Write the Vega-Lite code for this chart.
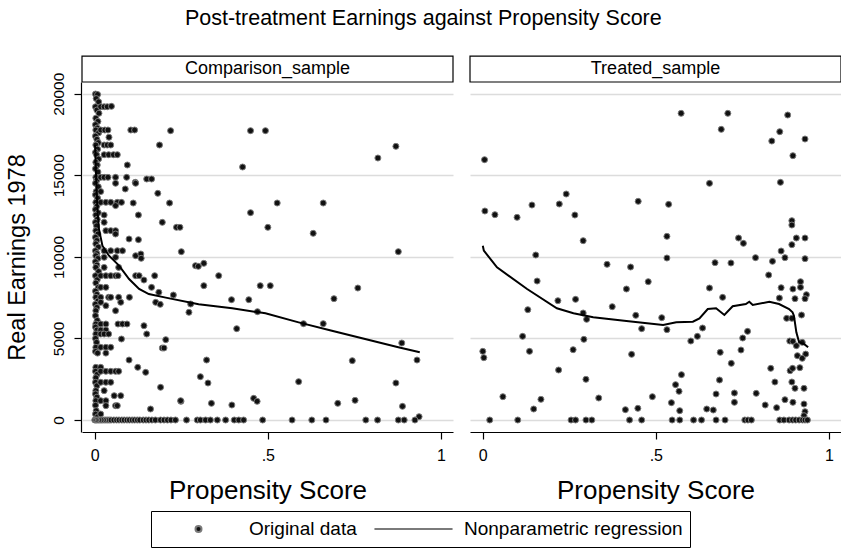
{
"$schema": "https://vega.github.io/schema/vega-lite/v6.json",
"autosize": {"type": "pad"},
"padding": {"left": 5, "top": 8, "right": 0, "bottom": 0},
"background": "white",
"config": {
  "font": "Liberation Sans",
  "view": {"stroke": null},
  "axis": {"domainColor": "black", "tickColor": "black", "labelColor": "black", "titleColor": "black", "titleFontWeight": "normal", "domainWidth": 1.2, "tickWidth": 1.2, "labelFont": "Liberation Sans", "titleFont": "Liberation Sans"},
  "legend": {"labelFont": "Liberation Sans"}
},
"title": {"text": "Post-treatment Earnings against Propensity Score", "fontSize": 21.5, "fontWeight": "normal", "color": "black", "anchor": "middle", "frame": "bounds", "offset": 26},
"data": {"values": [
{"sample":"Comparison_sample","series":"Original data","p":0.002,"re78":19980},
{"sample":"Comparison_sample","series":"Original data","p":0.008,"re78":19950},
{"sample":"Comparison_sample","series":"Original data","p":0.004,"re78":19700},
{"sample":"Comparison_sample","series":"Original data","p":0.011,"re78":19500},
{"sample":"Comparison_sample","series":"Original data","p":0.002,"re78":19200},
{"sample":"Comparison_sample","series":"Original data","p":0.006,"re78":19000},
{"sample":"Comparison_sample","series":"Original data","p":0.012,"re78":18800},
{"sample":"Comparison_sample","series":"Original data","p":0.003,"re78":18500},
{"sample":"Comparison_sample","series":"Original data","p":0.009,"re78":18300},
{"sample":"Comparison_sample","series":"Original data","p":0.002,"re78":18100},
{"sample":"Comparison_sample","series":"Original data","p":0.007,"re78":17900},
{"sample":"Comparison_sample","series":"Original data","p":0.003,"re78":17775},
{"sample":"Comparison_sample","series":"Original data","p":0.011,"re78":17600},
{"sample":"Comparison_sample","series":"Original data","p":0.002,"re78":17400},
{"sample":"Comparison_sample","series":"Original data","p":0.006,"re78":17200},
{"sample":"Comparison_sample","series":"Original data","p":0.01,"re78":17000},
{"sample":"Comparison_sample","series":"Original data","p":0.003,"re78":16855},
{"sample":"Comparison_sample","series":"Original data","p":0.008,"re78":16600},
{"sample":"Comparison_sample","series":"Original data","p":0.002,"re78":16400},
{"sample":"Comparison_sample","series":"Original data","p":0.005,"re78":16260},
{"sample":"Comparison_sample","series":"Original data","p":0.011,"re78":16000},
{"sample":"Comparison_sample","series":"Original data","p":0.003,"re78":15800},
{"sample":"Comparison_sample","series":"Original data","p":0.007,"re78":15630},
{"sample":"Comparison_sample","series":"Original data","p":0.002,"re78":15400},
{"sample":"Comparison_sample","series":"Original data","p":0.009,"re78":15200},
{"sample":"Comparison_sample","series":"Original data","p":0.003,"re78":14875},
{"sample":"Comparison_sample","series":"Original data","p":0.006,"re78":14700},
{"sample":"Comparison_sample","series":"Original data","p":0.002,"re78":14510},
{"sample":"Comparison_sample","series":"Original data","p":0.01,"re78":14300},
{"sample":"Comparison_sample","series":"Original data","p":0.004,"re78":14000},
{"sample":"Comparison_sample","series":"Original data","p":0.002,"re78":13800},
{"sample":"Comparison_sample","series":"Original data","p":0.008,"re78":13600},
{"sample":"Comparison_sample","series":"Original data","p":0.003,"re78":13340},
{"sample":"Comparison_sample","series":"Original data","p":0.006,"re78":13100},
{"sample":"Comparison_sample","series":"Original data","p":0.002,"re78":12900},
{"sample":"Comparison_sample","series":"Original data","p":0.01,"re78":12700},
{"sample":"Comparison_sample","series":"Original data","p":0.003,"re78":12565},
{"sample":"Comparison_sample","series":"Original data","p":0.007,"re78":12300},
{"sample":"Comparison_sample","series":"Original data","p":0.002,"re78":12115},
{"sample":"Comparison_sample","series":"Original data","p":0.005,"re78":11900},
{"sample":"Comparison_sample","series":"Original data","p":0.003,"re78":11605},
{"sample":"Comparison_sample","series":"Original data","p":0.009,"re78":11400},
{"sample":"Comparison_sample","series":"Original data","p":0.002,"re78":11200},
{"sample":"Comparison_sample","series":"Original data","p":0.006,"re78":11000},
{"sample":"Comparison_sample","series":"Original data","p":0.003,"re78":10800},
{"sample":"Comparison_sample","series":"Original data","p":0.01,"re78":10600},
{"sample":"Comparison_sample","series":"Original data","p":0.002,"re78":10375},
{"sample":"Comparison_sample","series":"Original data","p":0.006,"re78":10200},
{"sample":"Comparison_sample","series":"Original data","p":0.003,"re78":10070},
{"sample":"Comparison_sample","series":"Original data","p":0.009,"re78":9900},
{"sample":"Comparison_sample","series":"Original data","p":0.002,"re78":9700},
{"sample":"Comparison_sample","series":"Original data","p":0.006,"re78":9500},
{"sample":"Comparison_sample","series":"Original data","p":0.003,"re78":9355},
{"sample":"Comparison_sample","series":"Original data","p":0.011,"re78":9100},
{"sample":"Comparison_sample","series":"Original data","p":0.002,"re78":8845},
{"sample":"Comparison_sample","series":"Original data","p":0.007,"re78":8600},
{"sample":"Comparison_sample","series":"Original data","p":0.003,"re78":8400},
{"sample":"Comparison_sample","series":"Original data","p":0.01,"re78":8130},
{"sample":"Comparison_sample","series":"Original data","p":0.002,"re78":7900},
{"sample":"Comparison_sample","series":"Original data","p":0.006,"re78":7700},
{"sample":"Comparison_sample","series":"Original data","p":0.003,"re78":7520},
{"sample":"Comparison_sample","series":"Original data","p":0.009,"re78":7300},
{"sample":"Comparison_sample","series":"Original data","p":0.002,"re78":7100},
{"sample":"Comparison_sample","series":"Original data","p":0.006,"re78":6900},
{"sample":"Comparison_sample","series":"Original data","p":0.003,"re78":6700},
{"sample":"Comparison_sample","series":"Original data","p":0.002,"re78":6395},
{"sample":"Comparison_sample","series":"Original data","p":0.007,"re78":6100},
{"sample":"Comparison_sample","series":"Original data","p":0.003,"re78":5884},
{"sample":"Comparison_sample","series":"Original data","p":0.002,"re78":5700},
{"sample":"Comparison_sample","series":"Original data","p":0.006,"re78":5516},
{"sample":"Comparison_sample","series":"Original data","p":0.003,"re78":5271},
{"sample":"Comparison_sample","series":"Original data","p":0.002,"re78":5000},
{"sample":"Comparison_sample","series":"Original data","p":0.005,"re78":4760},
{"sample":"Comparison_sample","series":"Original data","p":0.003,"re78":4455},
{"sample":"Comparison_sample","series":"Original data","p":0.002,"re78":4200},
{"sample":"Comparison_sample","series":"Original data","p":0.008,"re78":4100},
{"sample":"Comparison_sample","series":"Original data","p":0.003,"re78":3228},
{"sample":"Comparison_sample","series":"Original data","p":0.002,"re78":2983},
{"sample":"Comparison_sample","series":"Original data","p":0.007,"re78":2800},
{"sample":"Comparison_sample","series":"Original data","p":0.003,"re78":2590},
{"sample":"Comparison_sample","series":"Original data","p":0.002,"re78":2310},
{"sample":"Comparison_sample","series":"Original data","p":0.006,"re78":2100},
{"sample":"Comparison_sample","series":"Original data","p":0.003,"re78":1800},
{"sample":"Comparison_sample","series":"Original data","p":0.002,"re78":1600},
{"sample":"Comparison_sample","series":"Original data","p":0.006,"re78":1400},
{"sample":"Comparison_sample","series":"Original data","p":0.003,"re78":1185},
{"sample":"Comparison_sample","series":"Original data","p":0.002,"re78":900},
{"sample":"Comparison_sample","series":"Original data","p":0.004,"re78":570},
{"sample":"Comparison_sample","series":"Original data","p":0.002,"re78":365},
{"sample":"Comparison_sample","series":"Original data","p":0.008,"re78":200},
{"sample":"Comparison_sample","series":"Original data","p":0.017,"re78":19200},
{"sample":"Comparison_sample","series":"Original data","p":0.027,"re78":19200},
{"sample":"Comparison_sample","series":"Original data","p":0.036,"re78":19200},
{"sample":"Comparison_sample","series":"Original data","p":0.048,"re78":19225},
{"sample":"Comparison_sample","series":"Original data","p":0.017,"re78":17775},
{"sample":"Comparison_sample","series":"Original data","p":0.029,"re78":17775},
{"sample":"Comparison_sample","series":"Original data","p":0.038,"re78":17775},
{"sample":"Comparison_sample","series":"Original data","p":0.041,"re78":17330},
{"sample":"Comparison_sample","series":"Original data","p":0.027,"re78":16855},
{"sample":"Comparison_sample","series":"Original data","p":0.036,"re78":16855},
{"sample":"Comparison_sample","series":"Original data","p":0.046,"re78":16855},
{"sample":"Comparison_sample","series":"Original data","p":0.027,"re78":16260},
{"sample":"Comparison_sample","series":"Original data","p":0.04,"re78":16260},
{"sample":"Comparison_sample","series":"Original data","p":0.054,"re78":16260},
{"sample":"Comparison_sample","series":"Original data","p":0.065,"re78":16260},
{"sample":"Comparison_sample","series":"Original data","p":0.017,"re78":14875},
{"sample":"Comparison_sample","series":"Original data","p":0.027,"re78":14875},
{"sample":"Comparison_sample","series":"Original data","p":0.038,"re78":14875},
{"sample":"Comparison_sample","series":"Original data","p":0.06,"re78":14875},
{"sample":"Comparison_sample","series":"Original data","p":0.06,"re78":14510},
{"sample":"Comparison_sample","series":"Original data","p":0.017,"re78":14000},
{"sample":"Comparison_sample","series":"Original data","p":0.017,"re78":13340},
{"sample":"Comparison_sample","series":"Original data","p":0.032,"re78":13340},
{"sample":"Comparison_sample","series":"Original data","p":0.046,"re78":13340},
{"sample":"Comparison_sample","series":"Original data","p":0.065,"re78":13340},
{"sample":"Comparison_sample","series":"Original data","p":0.077,"re78":13340},
{"sample":"Comparison_sample","series":"Original data","p":0.06,"re78":13140},
{"sample":"Comparison_sample","series":"Original data","p":0.027,"re78":12565},
{"sample":"Comparison_sample","series":"Original data","p":0.027,"re78":12115},
{"sample":"Comparison_sample","series":"Original data","p":0.032,"re78":11605},
{"sample":"Comparison_sample","series":"Original data","p":0.046,"re78":11605},
{"sample":"Comparison_sample","series":"Original data","p":0.06,"re78":11605},
{"sample":"Comparison_sample","series":"Original data","p":0.06,"re78":11400},
{"sample":"Comparison_sample","series":"Original data","p":0.027,"re78":10375},
{"sample":"Comparison_sample","series":"Original data","p":0.046,"re78":10375},
{"sample":"Comparison_sample","series":"Original data","p":0.065,"re78":10375},
{"sample":"Comparison_sample","series":"Original data","p":0.08,"re78":10375},
{"sample":"Comparison_sample","series":"Original data","p":0.027,"re78":9970},
{"sample":"Comparison_sample","series":"Original data","p":0.06,"re78":9970},
{"sample":"Comparison_sample","series":"Original data","p":0.027,"re78":9355},
{"sample":"Comparison_sample","series":"Original data","p":0.069,"re78":9355},
{"sample":"Comparison_sample","series":"Original data","p":0.017,"re78":8845},
{"sample":"Comparison_sample","series":"Original data","p":0.032,"re78":8845},
{"sample":"Comparison_sample","series":"Original data","p":0.046,"re78":8845},
{"sample":"Comparison_sample","series":"Original data","p":0.06,"re78":8845},
{"sample":"Comparison_sample","series":"Original data","p":0.067,"re78":8845},
{"sample":"Comparison_sample","series":"Original data","p":0.017,"re78":8130},
{"sample":"Comparison_sample","series":"Original data","p":0.032,"re78":8130},
{"sample":"Comparison_sample","series":"Original data","p":0.017,"re78":7520},
{"sample":"Comparison_sample","series":"Original data","p":0.04,"re78":7520},
{"sample":"Comparison_sample","series":"Original data","p":0.046,"re78":7520},
{"sample":"Comparison_sample","series":"Original data","p":0.069,"re78":7520},
{"sample":"Comparison_sample","series":"Original data","p":0.017,"re78":7215},
{"sample":"Comparison_sample","series":"Original data","p":0.075,"re78":7215},
{"sample":"Comparison_sample","series":"Original data","p":0.032,"re78":7010},
{"sample":"Comparison_sample","series":"Original data","p":0.06,"re78":6700},
{"sample":"Comparison_sample","series":"Original data","p":0.017,"re78":5884},
{"sample":"Comparison_sample","series":"Original data","p":0.032,"re78":5884},
{"sample":"Comparison_sample","series":"Original data","p":0.067,"re78":5884},
{"sample":"Comparison_sample","series":"Original data","p":0.08,"re78":5884},
{"sample":"Comparison_sample","series":"Original data","p":0.017,"re78":5516},
{"sample":"Comparison_sample","series":"Original data","p":0.032,"re78":5516},
{"sample":"Comparison_sample","series":"Original data","p":0.017,"re78":5271},
{"sample":"Comparison_sample","series":"Original data","p":0.027,"re78":5271},
{"sample":"Comparison_sample","series":"Original data","p":0.04,"re78":5271},
{"sample":"Comparison_sample","series":"Original data","p":0.077,"re78":4965},
{"sample":"Comparison_sample","series":"Original data","p":0.017,"re78":4455},
{"sample":"Comparison_sample","series":"Original data","p":0.032,"re78":4455},
{"sample":"Comparison_sample","series":"Original data","p":0.046,"re78":4455},
{"sample":"Comparison_sample","series":"Original data","p":0.032,"re78":4100},
{"sample":"Comparison_sample","series":"Original data","p":0.017,"re78":3228},
{"sample":"Comparison_sample","series":"Original data","p":0.017,"re78":2983},
{"sample":"Comparison_sample","series":"Original data","p":0.032,"re78":2983},
{"sample":"Comparison_sample","series":"Original data","p":0.046,"re78":2983},
{"sample":"Comparison_sample","series":"Original data","p":0.06,"re78":2983},
{"sample":"Comparison_sample","series":"Original data","p":0.069,"re78":2983},
{"sample":"Comparison_sample","series":"Original data","p":0.017,"re78":2310},
{"sample":"Comparison_sample","series":"Original data","p":0.032,"re78":2310},
{"sample":"Comparison_sample","series":"Original data","p":0.046,"re78":2310},
{"sample":"Comparison_sample","series":"Original data","p":0.027,"re78":1800},
{"sample":"Comparison_sample","series":"Original data","p":0.056,"re78":1490},
{"sample":"Comparison_sample","series":"Original data","p":0.075,"re78":1490},
{"sample":"Comparison_sample","series":"Original data","p":0.017,"re78":1185},
{"sample":"Comparison_sample","series":"Original data","p":0.032,"re78":1185},
{"sample":"Comparison_sample","series":"Original data","p":0.032,"re78":880},
{"sample":"Comparison_sample","series":"Original data","p":0.06,"re78":880},
{"sample":"Comparison_sample","series":"Original data","p":0.065,"re78":880},
{"sample":"Comparison_sample","series":"Original data","p":0.017,"re78":365},
{"sample":"Comparison_sample","series":"Original data","p":0.104,"re78":17775},
{"sample":"Comparison_sample","series":"Original data","p":0.115,"re78":17775},
{"sample":"Comparison_sample","series":"Original data","p":0.219,"re78":17733},
{"sample":"Comparison_sample","series":"Original data","p":0.45,"re78":17733},
{"sample":"Comparison_sample","series":"Original data","p":0.493,"re78":17733},
{"sample":"Comparison_sample","series":"Original data","p":0.187,"re78":16855},
{"sample":"Comparison_sample","series":"Original data","p":0.87,"re78":16773},
{"sample":"Comparison_sample","series":"Original data","p":0.818,"re78":16058},
{"sample":"Comparison_sample","series":"Original data","p":0.094,"re78":15630},
{"sample":"Comparison_sample","series":"Original data","p":0.427,"re78":15507},
{"sample":"Comparison_sample","series":"Original data","p":0.117,"re78":14567},
{"sample":"Comparison_sample","series":"Original data","p":0.088,"re78":14160},
{"sample":"Comparison_sample","series":"Original data","p":0.092,"re78":14875},
{"sample":"Comparison_sample","series":"Original data","p":0.15,"re78":14771},
{"sample":"Comparison_sample","series":"Original data","p":0.164,"re78":14771},
{"sample":"Comparison_sample","series":"Original data","p":0.118,"re78":14510},
{"sample":"Comparison_sample","series":"Original data","p":0.182,"re78":13893},
{"sample":"Comparison_sample","series":"Original data","p":0.111,"re78":13300},
{"sample":"Comparison_sample","series":"Original data","p":0.216,"re78":13300},
{"sample":"Comparison_sample","series":"Original data","p":0.527,"re78":13300},
{"sample":"Comparison_sample","series":"Original data","p":0.66,"re78":13300},
{"sample":"Comparison_sample","series":"Original data","p":0.45,"re78":12708},
{"sample":"Comparison_sample","series":"Original data","p":0.126,"re78":12565},
{"sample":"Comparison_sample","series":"Original data","p":0.195,"re78":12115},
{"sample":"Comparison_sample","series":"Original data","p":0.236,"re78":11810},
{"sample":"Comparison_sample","series":"Original data","p":0.246,"re78":11810},
{"sample":"Comparison_sample","series":"Original data","p":0.5,"re78":11808},
{"sample":"Comparison_sample","series":"Original data","p":0.631,"re78":11441},
{"sample":"Comparison_sample","series":"Original data","p":0.099,"re78":11095},
{"sample":"Comparison_sample","series":"Original data","p":0.126,"re78":11053},
{"sample":"Comparison_sample","series":"Original data","p":0.25,"re78":10317},
{"sample":"Comparison_sample","series":"Original data","p":0.877,"re78":10317},
{"sample":"Comparison_sample","series":"Original data","p":0.118,"re78":10070},
{"sample":"Comparison_sample","series":"Original data","p":0.133,"re78":10174},
{"sample":"Comparison_sample","series":"Original data","p":0.134,"re78":9909},
{"sample":"Comparison_sample","series":"Original data","p":0.291,"re78":9460},
{"sample":"Comparison_sample","series":"Original data","p":0.299,"re78":9418},
{"sample":"Comparison_sample","series":"Original data","p":0.315,"re78":9603},
{"sample":"Comparison_sample","series":"Original data","p":0.358,"re78":8846},
{"sample":"Comparison_sample","series":"Original data","p":0.173,"re78":8845},
{"sample":"Comparison_sample","series":"Original data","p":0.118,"re78":8845},
{"sample":"Comparison_sample","series":"Original data","p":0.128,"re78":8845},
{"sample":"Comparison_sample","series":"Original data","p":0.142,"re78":8580},
{"sample":"Comparison_sample","series":"Original data","p":0.164,"re78":8131},
{"sample":"Comparison_sample","series":"Original data","p":0.185,"re78":7825},
{"sample":"Comparison_sample","series":"Original data","p":0.315,"re78":8233},
{"sample":"Comparison_sample","series":"Original data","p":0.478,"re78":8233},
{"sample":"Comparison_sample","series":"Original data","p":0.507,"re78":8233},
{"sample":"Comparison_sample","series":"Original data","p":0.76,"re78":8090},
{"sample":"Comparison_sample","series":"Original data","p":0.227,"re78":7661},
{"sample":"Comparison_sample","series":"Original data","p":0.1,"re78":7520},
{"sample":"Comparison_sample","series":"Original data","p":0.176,"re78":7212},
{"sample":"Comparison_sample","series":"Original data","p":0.189,"re78":7089},
{"sample":"Comparison_sample","series":"Original data","p":0.277,"re78":7110},
{"sample":"Comparison_sample","series":"Original data","p":0.272,"re78":6600},
{"sample":"Comparison_sample","series":"Original data","p":0.395,"re78":7375},
{"sample":"Comparison_sample","series":"Original data","p":0.445,"re78":7375},
{"sample":"Comparison_sample","series":"Original data","p":0.691,"re78":7437},
{"sample":"Comparison_sample","series":"Original data","p":0.47,"re78":6640},
{"sample":"Comparison_sample","series":"Original data","p":0.41,"re78":5598},
{"sample":"Comparison_sample","series":"Original data","p":0.603,"re78":5904},
{"sample":"Comparison_sample","series":"Original data","p":0.66,"re78":5904},
{"sample":"Comparison_sample","series":"Original data","p":0.887,"re78":4719},
{"sample":"Comparison_sample","series":"Original data","p":0.142,"re78":5780},
{"sample":"Comparison_sample","series":"Original data","p":0.15,"re78":5271},
{"sample":"Comparison_sample","series":"Original data","p":0.205,"re78":4924},
{"sample":"Comparison_sample","series":"Original data","p":0.093,"re78":5884},
{"sample":"Comparison_sample","series":"Original data","p":0.195,"re78":4413},
{"sample":"Comparison_sample","series":"Original data","p":0.2,"re78":4413},
{"sample":"Comparison_sample","series":"Original data","p":0.099,"re78":3677},
{"sample":"Comparison_sample","series":"Original data","p":0.744,"re78":3637},
{"sample":"Comparison_sample","series":"Original data","p":0.931,"re78":3677},
{"sample":"Comparison_sample","series":"Original data","p":0.323,"re78":3677},
{"sample":"Comparison_sample","series":"Original data","p":0.124,"re78":3228},
{"sample":"Comparison_sample","series":"Original data","p":0.147,"re78":2922},
{"sample":"Comparison_sample","series":"Original data","p":0.305,"re78":2656},
{"sample":"Comparison_sample","series":"Original data","p":0.327,"re78":2268},
{"sample":"Comparison_sample","series":"Original data","p":0.589,"re78":2350},
{"sample":"Comparison_sample","series":"Original data","p":0.87,"re78":2268},
{"sample":"Comparison_sample","series":"Original data","p":0.19,"re78":2005},
{"sample":"Comparison_sample","series":"Original data","p":0.249,"re78":1144},
{"sample":"Comparison_sample","series":"Original data","p":0.337,"re78":1022},
{"sample":"Comparison_sample","series":"Original data","p":0.396,"re78":919},
{"sample":"Comparison_sample","series":"Original data","p":0.459,"re78":1328},
{"sample":"Comparison_sample","series":"Original data","p":0.469,"re78":1144},
{"sample":"Comparison_sample","series":"Original data","p":0.702,"re78":1022},
{"sample":"Comparison_sample","series":"Original data","p":0.752,"re78":1205},
{"sample":"Comparison_sample","series":"Original data","p":0.889,"re78":838},
{"sample":"Comparison_sample","series":"Original data","p":0.937,"re78":204},
{"sample":"Comparison_sample","series":"Original data","p":0.161,"re78":674},
{"sample":"Comparison_sample","series":"Original data","p":0.248,"re78":1185},
{"sample":"Comparison_sample","series":"Original data","p":0.0,"re78":0},
{"sample":"Comparison_sample","series":"Original data","p":0.003,"re78":0},
{"sample":"Comparison_sample","series":"Original data","p":0.006,"re78":0},
{"sample":"Comparison_sample","series":"Original data","p":0.01,"re78":0},
{"sample":"Comparison_sample","series":"Original data","p":0.014,"re78":0},
{"sample":"Comparison_sample","series":"Original data","p":0.018,"re78":0},
{"sample":"Comparison_sample","series":"Original data","p":0.022,"re78":0},
{"sample":"Comparison_sample","series":"Original data","p":0.027,"re78":0},
{"sample":"Comparison_sample","series":"Original data","p":0.032,"re78":0},
{"sample":"Comparison_sample","series":"Original data","p":0.037,"re78":0},
{"sample":"Comparison_sample","series":"Original data","p":0.042,"re78":0},
{"sample":"Comparison_sample","series":"Original data","p":0.047,"re78":0},
{"sample":"Comparison_sample","series":"Original data","p":0.055,"re78":0},
{"sample":"Comparison_sample","series":"Original data","p":0.063,"re78":0},
{"sample":"Comparison_sample","series":"Original data","p":0.07,"re78":0},
{"sample":"Comparison_sample","series":"Original data","p":0.078,"re78":0},
{"sample":"Comparison_sample","series":"Original data","p":0.085,"re78":0},
{"sample":"Comparison_sample","series":"Original data","p":0.093,"re78":0},
{"sample":"Comparison_sample","series":"Original data","p":0.1,"re78":0},
{"sample":"Comparison_sample","series":"Original data","p":0.108,"re78":0},
{"sample":"Comparison_sample","series":"Original data","p":0.115,"re78":0},
{"sample":"Comparison_sample","series":"Original data","p":0.123,"re78":0},
{"sample":"Comparison_sample","series":"Original data","p":0.13,"re78":0},
{"sample":"Comparison_sample","series":"Original data","p":0.14,"re78":0},
{"sample":"Comparison_sample","series":"Original data","p":0.148,"re78":0},
{"sample":"Comparison_sample","series":"Original data","p":0.156,"re78":0},
{"sample":"Comparison_sample","series":"Original data","p":0.165,"re78":0},
{"sample":"Comparison_sample","series":"Original data","p":0.175,"re78":0},
{"sample":"Comparison_sample","series":"Original data","p":0.19,"re78":0},
{"sample":"Comparison_sample","series":"Original data","p":0.2,"re78":0},
{"sample":"Comparison_sample","series":"Original data","p":0.21,"re78":0},
{"sample":"Comparison_sample","series":"Original data","p":0.22,"re78":0},
{"sample":"Comparison_sample","series":"Original data","p":0.233,"re78":0},
{"sample":"Comparison_sample","series":"Original data","p":0.265,"re78":0},
{"sample":"Comparison_sample","series":"Original data","p":0.296,"re78":0},
{"sample":"Comparison_sample","series":"Original data","p":0.305,"re78":0},
{"sample":"Comparison_sample","series":"Original data","p":0.32,"re78":0},
{"sample":"Comparison_sample","series":"Original data","p":0.334,"re78":0},
{"sample":"Comparison_sample","series":"Original data","p":0.354,"re78":0},
{"sample":"Comparison_sample","series":"Original data","p":0.378,"re78":0},
{"sample":"Comparison_sample","series":"Original data","p":0.403,"re78":0},
{"sample":"Comparison_sample","series":"Original data","p":0.416,"re78":0},
{"sample":"Comparison_sample","series":"Original data","p":0.43,"re78":0},
{"sample":"Comparison_sample","series":"Original data","p":0.485,"re78":0},
{"sample":"Comparison_sample","series":"Original data","p":0.57,"re78":0},
{"sample":"Comparison_sample","series":"Original data","p":0.627,"re78":0},
{"sample":"Comparison_sample","series":"Original data","p":0.668,"re78":0},
{"sample":"Comparison_sample","series":"Original data","p":0.783,"re78":0},
{"sample":"Comparison_sample","series":"Original data","p":0.817,"re78":0},
{"sample":"Comparison_sample","series":"Original data","p":0.877,"re78":0},
{"sample":"Comparison_sample","series":"Original data","p":0.894,"re78":0},
{"sample":"Comparison_sample","series":"Original data","p":0.925,"re78":0},
{"sample":"Treated_sample","series":"Original data","p":0.573,"re78":18796},
{"sample":"Treated_sample","series":"Original data","p":0.708,"re78":18796},
{"sample":"Treated_sample","series":"Original data","p":0.689,"re78":17815},
{"sample":"Treated_sample","series":"Original data","p":0.881,"re78":18694},
{"sample":"Treated_sample","series":"Original data","p":0.858,"re78":17672},
{"sample":"Treated_sample","series":"Original data","p":0.835,"re78":17100},
{"sample":"Treated_sample","series":"Original data","p":0.931,"re78":17222},
{"sample":"Treated_sample","series":"Original data","p":0.896,"re78":16201},
{"sample":"Treated_sample","series":"Original data","p":0.005,"re78":15956},
{"sample":"Treated_sample","series":"Original data","p":0.86,"re78":14567},
{"sample":"Treated_sample","series":"Original data","p":0.655,"re78":14505},
{"sample":"Treated_sample","series":"Original data","p":0.241,"re78":13852},
{"sample":"Treated_sample","series":"Original data","p":0.221,"re78":13239},
{"sample":"Treated_sample","series":"Original data","p":0.142,"re78":13177},
{"sample":"Treated_sample","series":"Original data","p":0.449,"re78":13402},
{"sample":"Treated_sample","series":"Original data","p":0.537,"re78":13218},
{"sample":"Treated_sample","series":"Original data","p":0.006,"re78":12810},
{"sample":"Treated_sample","series":"Original data","p":0.035,"re78":12585},
{"sample":"Treated_sample","series":"Original data","p":0.099,"re78":12421},
{"sample":"Treated_sample","series":"Original data","p":0.266,"re78":12564},
{"sample":"Treated_sample","series":"Original data","p":0.893,"re78":12217},
{"sample":"Treated_sample","series":"Original data","p":0.893,"re78":11951},
{"sample":"Treated_sample","series":"Original data","p":0.532,"re78":11257},
{"sample":"Treated_sample","series":"Original data","p":0.906,"re78":11155},
{"sample":"Treated_sample","series":"Original data","p":0.931,"re78":11155},
{"sample":"Treated_sample","series":"Original data","p":0.739,"re78":11155},
{"sample":"Treated_sample","series":"Original data","p":0.753,"re78":10828},
{"sample":"Treated_sample","series":"Original data","p":0.893,"re78":10746},
{"sample":"Treated_sample","series":"Original data","p":0.29,"re78":10991},
{"sample":"Treated_sample","series":"Original data","p":0.862,"re78":10358},
{"sample":"Treated_sample","series":"Original data","p":0.153,"re78":10113},
{"sample":"Treated_sample","series":"Original data","p":0.532,"re78":9929},
{"sample":"Treated_sample","series":"Original data","p":0.788,"re78":9950},
{"sample":"Treated_sample","series":"Original data","p":0.837,"re78":9725},
{"sample":"Treated_sample","series":"Original data","p":0.873,"re78":9950},
{"sample":"Treated_sample","series":"Original data","p":0.931,"re78":9888},
{"sample":"Treated_sample","series":"Original data","p":0.671,"re78":9643},
{"sample":"Treated_sample","series":"Original data","p":0.717,"re78":9623},
{"sample":"Treated_sample","series":"Original data","p":0.359,"re78":9541},
{"sample":"Treated_sample","series":"Original data","p":0.427,"re78":9377},
{"sample":"Treated_sample","series":"Original data","p":0.826,"re78":8887},
{"sample":"Treated_sample","series":"Original data","p":0.157,"re78":8519},
{"sample":"Treated_sample","series":"Original data","p":0.478,"re78":8478},
{"sample":"Treated_sample","series":"Original data","p":0.918,"re78":8478},
{"sample":"Treated_sample","series":"Original data","p":0.415,"re78":8029},
{"sample":"Treated_sample","series":"Original data","p":0.655,"re78":8090},
{"sample":"Treated_sample","series":"Original data","p":0.862,"re78":8110},
{"sample":"Treated_sample","series":"Original data","p":0.896,"re78":8029},
{"sample":"Treated_sample","series":"Original data","p":0.918,"re78":8131},
{"sample":"Treated_sample","series":"Original data","p":0.935,"re78":7681},
{"sample":"Treated_sample","series":"Original data","p":0.931,"re78":7436},
{"sample":"Treated_sample","series":"Original data","p":0.693,"re78":7518},
{"sample":"Treated_sample","series":"Original data","p":0.857,"re78":7477},
{"sample":"Treated_sample","series":"Original data","p":0.902,"re78":7436},
{"sample":"Treated_sample","series":"Original data","p":0.217,"re78":7313},
{"sample":"Treated_sample","series":"Original data","p":0.268,"re78":7395},
{"sample":"Treated_sample","series":"Original data","p":0.374,"re78":6946},
{"sample":"Treated_sample","series":"Original data","p":0.13,"re78":6762},
{"sample":"Treated_sample","series":"Original data","p":0.29,"re78":6558},
{"sample":"Treated_sample","series":"Original data","p":0.3,"re78":6170},
{"sample":"Treated_sample","series":"Original data","p":0.442,"re78":6415},
{"sample":"Treated_sample","series":"Original data","p":0.517,"re78":6272},
{"sample":"Treated_sample","series":"Original data","p":0.532,"re78":5537},
{"sample":"Treated_sample","series":"Original data","p":0.459,"re78":5598},
{"sample":"Treated_sample","series":"Original data","p":0.635,"re78":5639},
{"sample":"Treated_sample","series":"Original data","p":0.878,"re78":6231},
{"sample":"Treated_sample","series":"Original data","p":0.893,"re78":6231},
{"sample":"Treated_sample","series":"Original data","p":0.921,"re78":6435},
{"sample":"Treated_sample","series":"Original data","p":0.765,"re78":5434},
{"sample":"Treated_sample","series":"Original data","p":0.751,"re78":5026},
{"sample":"Treated_sample","series":"Original data","p":0.115,"re78":5128},
{"sample":"Treated_sample","series":"Original data","p":0.62,"re78":5128},
{"sample":"Treated_sample","series":"Original data","p":0.601,"re78":4842},
{"sample":"Treated_sample","series":"Original data","p":0.292,"re78":4944},
{"sample":"Treated_sample","series":"Original data","p":0.887,"re78":4842},
{"sample":"Treated_sample","series":"Original data","p":0.896,"re78":4820},
{"sample":"Treated_sample","series":"Original data","p":0.906,"re78":4556},
{"sample":"Treated_sample","series":"Original data","p":0.923,"re78":4760},
{"sample":"Treated_sample","series":"Original data","p":0.0,"re78":4209},
{"sample":"Treated_sample","series":"Original data","p":0.003,"re78":3820},
{"sample":"Treated_sample","series":"Original data","p":0.135,"re78":4209},
{"sample":"Treated_sample","series":"Original data","p":0.261,"re78":4311},
{"sample":"Treated_sample","series":"Original data","p":0.746,"re78":4290},
{"sample":"Treated_sample","series":"Original data","p":0.686,"re78":4147},
{"sample":"Treated_sample","series":"Original data","p":0.43,"re78":4025},
{"sample":"Treated_sample","series":"Original data","p":0.909,"re78":3943},
{"sample":"Treated_sample","series":"Original data","p":0.933,"re78":4040},
{"sample":"Treated_sample","series":"Original data","p":0.923,"re78":3780},
{"sample":"Treated_sample","series":"Original data","p":0.718,"re78":3473},
{"sample":"Treated_sample","series":"Original data","p":0.219,"re78":3065},
{"sample":"Treated_sample","series":"Original data","p":0.832,"re78":3167},
{"sample":"Treated_sample","series":"Original data","p":0.888,"re78":3024},
{"sample":"Treated_sample","series":"Original data","p":0.895,"re78":3167},
{"sample":"Treated_sample","series":"Original data","p":0.916,"re78":3208},
{"sample":"Treated_sample","series":"Original data","p":0.574,"re78":2779},
{"sample":"Treated_sample","series":"Original data","p":0.298,"re78":2493},
{"sample":"Treated_sample","series":"Original data","p":0.684,"re78":2452},
{"sample":"Treated_sample","series":"Original data","p":0.844,"re78":2329},
{"sample":"Treated_sample","series":"Original data","p":0.893,"re78":2329},
{"sample":"Treated_sample","series":"Original data","p":0.557,"re78":2166},
{"sample":"Treated_sample","series":"Original data","p":0.928,"re78":1941},
{"sample":"Treated_sample","series":"Original data","p":0.902,"re78":1941},
{"sample":"Treated_sample","series":"Original data","p":0.567,"re78":1757},
{"sample":"Treated_sample","series":"Original data","p":0.058,"re78":1430},
{"sample":"Treated_sample","series":"Original data","p":0.168,"re78":1267},
{"sample":"Treated_sample","series":"Original data","p":0.335,"re78":1348},
{"sample":"Treated_sample","series":"Original data","p":0.49,"re78":1430},
{"sample":"Treated_sample","series":"Original data","p":0.674,"re78":1594},
{"sample":"Treated_sample","series":"Original data","p":0.727,"re78":1655},
{"sample":"Treated_sample","series":"Original data","p":0.79,"re78":1634},
{"sample":"Treated_sample","series":"Original data","p":0.727,"re78":1083},
{"sample":"Treated_sample","series":"Original data","p":0.873,"re78":1246},
{"sample":"Treated_sample","series":"Original data","p":0.896,"re78":1083},
{"sample":"Treated_sample","series":"Original data","p":0.928,"re78":981},
{"sample":"Treated_sample","series":"Original data","p":0.545,"re78":1062},
{"sample":"Treated_sample","series":"Original data","p":0.147,"re78":674},
{"sample":"Treated_sample","series":"Original data","p":0.412,"re78":633},
{"sample":"Treated_sample","series":"Original data","p":0.448,"re78":715},
{"sample":"Treated_sample","series":"Original data","p":0.647,"re78":674},
{"sample":"Treated_sample","series":"Original data","p":0.666,"re78":613},
{"sample":"Treated_sample","series":"Original data","p":0.569,"re78":572},
{"sample":"Treated_sample","series":"Original data","p":0.816,"re78":919},
{"sample":"Treated_sample","series":"Original data","p":0.849,"re78":756},
{"sample":"Treated_sample","series":"Original data","p":0.931,"re78":511},
{"sample":"Treated_sample","series":"Original data","p":0.928,"re78":266},
{"sample":"Treated_sample","series":"Original data","p":0.02,"re78":0},
{"sample":"Treated_sample","series":"Original data","p":0.101,"re78":0},
{"sample":"Treated_sample","series":"Original data","p":0.255,"re78":0},
{"sample":"Treated_sample","series":"Original data","p":0.268,"re78":0},
{"sample":"Treated_sample","series":"Original data","p":0.298,"re78":0},
{"sample":"Treated_sample","series":"Original data","p":0.315,"re78":0},
{"sample":"Treated_sample","series":"Original data","p":0.424,"re78":0},
{"sample":"Treated_sample","series":"Original data","p":0.459,"re78":0},
{"sample":"Treated_sample","series":"Original data","p":0.547,"re78":0},
{"sample":"Treated_sample","series":"Original data","p":0.569,"re78":0},
{"sample":"Treated_sample","series":"Original data","p":0.609,"re78":0},
{"sample":"Treated_sample","series":"Original data","p":0.632,"re78":0},
{"sample":"Treated_sample","series":"Original data","p":0.674,"re78":0},
{"sample":"Treated_sample","series":"Original data","p":0.7,"re78":0},
{"sample":"Treated_sample","series":"Original data","p":0.757,"re78":0},
{"sample":"Treated_sample","series":"Original data","p":0.766,"re78":0},
{"sample":"Treated_sample","series":"Original data","p":0.776,"re78":0},
{"sample":"Treated_sample","series":"Original data","p":0.858,"re78":0},
{"sample":"Treated_sample","series":"Original data","p":0.87,"re78":0},
{"sample":"Treated_sample","series":"Original data","p":0.885,"re78":0},
{"sample":"Treated_sample","series":"Original data","p":0.895,"re78":0},
{"sample":"Treated_sample","series":"Original data","p":0.904,"re78":0},
{"sample":"Treated_sample","series":"Original data","p":0.914,"re78":0},
{"sample":"Treated_sample","series":"Original data","p":0.924,"re78":0},
{"sample":"Treated_sample","series":"Original data","p":0.931,"re78":0},
{"sample":"Treated_sample","series":"Original data","p":0.938,"re78":0},
{"sample":"Comparison_sample","series":"Nonparametric regression","p":0.001,"re78":16855},
{"sample":"Comparison_sample","series":"Nonparametric regression","p":0.003,"re78":15385},
{"sample":"Comparison_sample","series":"Nonparametric regression","p":0.0075,"re78":12930},
{"sample":"Comparison_sample","series":"Nonparametric regression","p":0.012,"re78":11700},
{"sample":"Comparison_sample","series":"Nonparametric regression","p":0.022,"re78":10685},
{"sample":"Comparison_sample","series":"Nonparametric regression","p":0.041,"re78":10070},
{"sample":"Comparison_sample","series":"Nonparametric regression","p":0.07,"re78":9460},
{"sample":"Comparison_sample","series":"Nonparametric regression","p":0.099,"re78":8640},
{"sample":"Comparison_sample","series":"Nonparametric regression","p":0.128,"re78":8030},
{"sample":"Comparison_sample","series":"Nonparametric regression","p":0.156,"re78":7720},
{"sample":"Comparison_sample","series":"Nonparametric regression","p":0.205,"re78":7500},
{"sample":"Comparison_sample","series":"Nonparametric regression","p":0.3,"re78":7090},
{"sample":"Comparison_sample","series":"Nonparametric regression","p":0.397,"re78":6845},
{"sample":"Comparison_sample","series":"Nonparametric regression","p":0.493,"re78":6540},
{"sample":"Comparison_sample","series":"Nonparametric regression","p":0.589,"re78":5985},
{"sample":"Comparison_sample","series":"Nonparametric regression","p":0.685,"re78":5475},
{"sample":"Comparison_sample","series":"Nonparametric regression","p":0.781,"re78":4965},
{"sample":"Comparison_sample","series":"Nonparametric regression","p":0.877,"re78":4455},
{"sample":"Comparison_sample","series":"Nonparametric regression","p":0.939,"re78":4150},
{"sample":"Treated_sample","series":"Nonparametric regression","p":0.0,"re78":10685},
{"sample":"Treated_sample","series":"Nonparametric regression","p":0.003,"re78":10380},
{"sample":"Treated_sample","series":"Nonparametric regression","p":0.041,"re78":9360},
{"sample":"Treated_sample","series":"Nonparametric regression","p":0.128,"re78":8030},
{"sample":"Treated_sample","series":"Nonparametric regression","p":0.214,"re78":6845},
{"sample":"Treated_sample","series":"Nonparametric regression","p":0.262,"re78":6540},
{"sample":"Treated_sample","series":"Nonparametric regression","p":0.319,"re78":6295},
{"sample":"Treated_sample","series":"Nonparametric regression","p":0.415,"re78":6070},
{"sample":"Treated_sample","series":"Nonparametric regression","p":0.521,"re78":5820},
{"sample":"Treated_sample","series":"Nonparametric regression","p":0.559,"re78":5985},
{"sample":"Treated_sample","series":"Nonparametric regression","p":0.607,"re78":6025},
{"sample":"Treated_sample","series":"Nonparametric regression","p":0.626,"re78":6230},
{"sample":"Treated_sample","series":"Nonparametric regression","p":0.65,"re78":6805},
{"sample":"Treated_sample","series":"Nonparametric regression","p":0.674,"re78":6845},
{"sample":"Treated_sample","series":"Nonparametric regression","p":0.698,"re78":6435},
{"sample":"Treated_sample","series":"Nonparametric regression","p":0.722,"re78":6970},
{"sample":"Treated_sample","series":"Nonparametric regression","p":0.76,"re78":7110},
{"sample":"Treated_sample","series":"Nonparametric regression","p":0.77,"re78":7250},
{"sample":"Treated_sample","series":"Nonparametric regression","p":0.78,"re78":7050},
{"sample":"Treated_sample","series":"Nonparametric regression","p":0.828,"re78":7250},
{"sample":"Treated_sample","series":"Nonparametric regression","p":0.856,"re78":7110},
{"sample":"Treated_sample","series":"Nonparametric regression","p":0.885,"re78":6805},
{"sample":"Treated_sample","series":"Nonparametric regression","p":0.895,"re78":6600},
{"sample":"Treated_sample","series":"Nonparametric regression","p":0.899,"re78":6395},
{"sample":"Treated_sample","series":"Nonparametric regression","p":0.906,"re78":5375},
{"sample":"Treated_sample","series":"Nonparametric regression","p":0.914,"re78":4760},
{"sample":"Treated_sample","series":"Nonparametric regression","p":0.928,"re78":4660},
{"sample":"Treated_sample","series":"Nonparametric regression","p":0.94,"re78":4455}
]},
"facet": {"column": {"field": "sample", "type": "nominal", "header": {"labels": false, "title": null}}},
"spacing": 15,
"spec": {
  "width": 371,
  "height": 350,
  "layer": [
    {
      "transform": [{"filter": "datum.series == 'Original data'"}, {"aggregate": [{"op": "count", "as": "n"}], "groupby": ["sample"]}],
      "mark": {"type": "rect", "fill": "white", "stroke": "black", "strokeWidth": 1.2, "clip": false},
      "encoding": {"x": {"datum": -0.037}, "x2": {"datum": 1.035}, "y": {"datum": 20717}, "y2": {"datum": 22300}}
    },
    {
      "transform": [{"filter": "datum.series == 'Original data'"}, {"aggregate": [{"op": "count", "as": "n"}], "groupby": ["sample"]}],
      "mark": {"type": "text", "fontSize": 18, "color": "black", "baseline": "middle", "align": "center", "font": "Liberation Sans"},
      "encoding": {"x": {"datum": 0.499}, "y": {"datum": 21520}, "text": {"field": "sample", "type": "nominal"}}
    },
    {
      "transform": [{"filter": "datum.series == 'Original data'"}],
      "mark": {"type": "point", "filled": true, "stroke": "#7a7a7a", "strokeWidth": 1, "opacity": 1},
      "encoding": {
        "x": {"field": "p", "type": "quantitative", "scale": {"domain": [-0.037, 1.035], "nice": false, "zero": false},
          "axis": {"values": [0, 0.5, 1], "labelExpr": "datum.value == 0.5 ? '.5' : toString(datum.value)", "labelFontSize": 16, "tickSize": 7, "labelPadding": 8, "grid": false, "title": "Propensity Score", "titleFontSize": 26, "titlePadding": 14}},
        "y": {"field": "re78", "type": "quantitative", "scale": {"domain": [-735, 20717], "nice": false, "zero": false},
          "axis": {"values": [0, 5000, 10000, 15000, 20000], "format": "d", "labelAngle": 270, "labelAlign": "center", "labelBaseline": "bottom", "labelFontSize": 15.5, "tickSize": 7, "labelPadding": 8, "grid": true, "gridColor": "#dcdcdc", "gridWidth": 1.5, "title": "Real Earnings 1978", "titleFontSize": 23.5, "titlePadding": 22}},
        "shape": {"field": "series", "type": "nominal", "scale": {"domain": ["Original data", "Nonparametric regression"], "range": ["circle", "stroke"]},
          "legend": {"title": null, "orient": "none", "legendX": 69, "legendY": 429, "direction": "horizontal", "columns": 2, "clipHeight": 22, "labelFontSize": 19, "labelLimit": 400, "labelColor": "black", "strokeColor": "black", "padding": 7, "columnPadding": 16, "labelOffset": 10, "symbolStrokeWidth": 2, "symbolStrokeColor": "black",
            "encode": {"symbols": {"update": {"stroke": {"value": "black"}, "strokeWidth": {"value": 2}, "opacity": {"value": 1}}}}}},
        "size": {"field": "series", "type": "nominal", "scale": {"domain": ["Original data", "Nonparametric regression"], "range": [36, 6100]}},
        "color": {"field": "series", "type": "nominal", "scale": {"domain": ["Original data", "Nonparametric regression"], "range": ["#111111", "#000000"]}}
      }
    },
    {
      "transform": [{"filter": "datum.series == 'Nonparametric regression'"}],
      "mark": {"type": "line", "color": "black", "strokeWidth": 2},
      "encoding": {"x": {"field": "p", "type": "quantitative"}, "y": {"field": "re78", "type": "quantitative"}}
    }
  ]
}
}
